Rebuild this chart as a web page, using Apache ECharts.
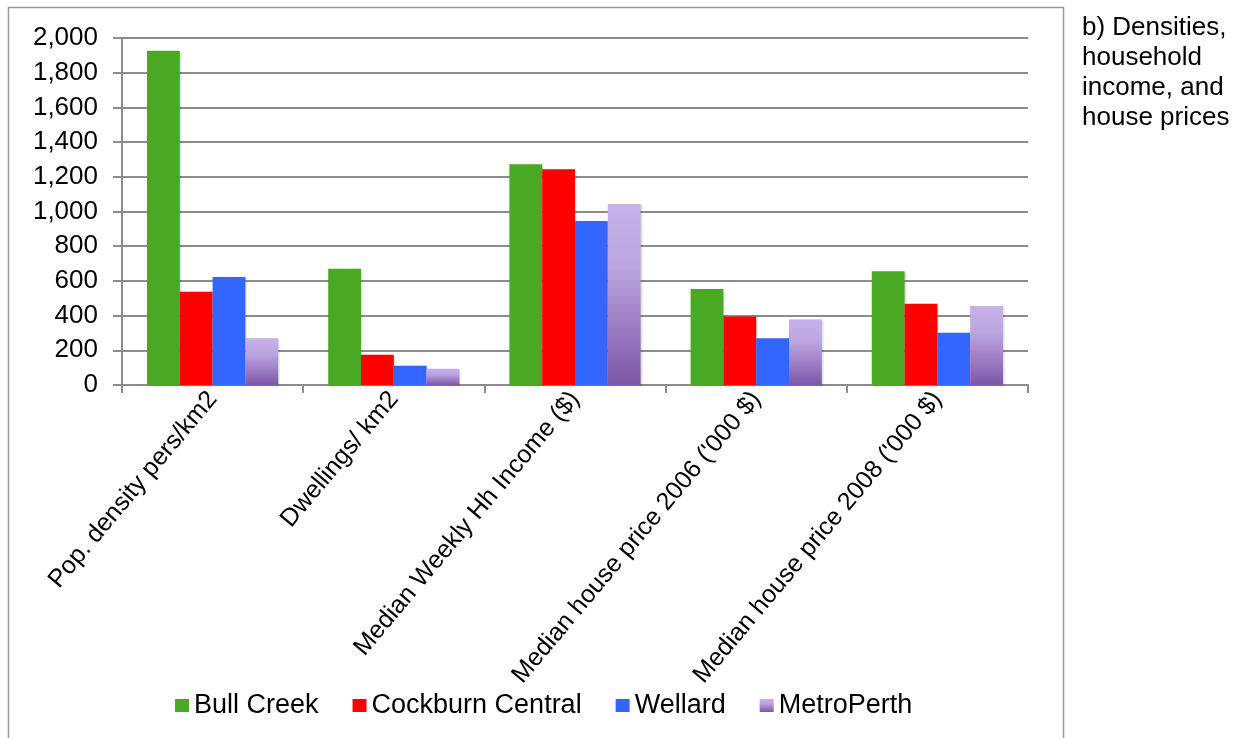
<!DOCTYPE html>
<html>
<head>
<meta charset="utf-8">
<script src="https://cdn.jsdelivr.net/npm/echarts@6/dist/echarts.min.js"></script>
<style>
  html, body { margin: 0; padding: 0; background: #fff; }
  #chart { width: 1241px; height: 738px; }
</style>
</head>
<body>
<div id="chart"></div>
<script>
// ============================================
// DATA
// ============================================

const categories = [
  'Pop. density pers/km2',
  'Dwellings/ km2',
  'Median Weekly Hh Income ($)',
  "Median house price 2006 ('000 $)",
  "Median house price 2008 ('000 $)"
];

const bullCreek = [1927, 670, 1273, 554, 656];
const cockburnCentral = [538, 174, 1244, 395, 468];
const wellard = [622, 111, 945, 270, 301];
const metroPerth = [270, 94, 1043, 378, 456];

const yTicks = [0, 200, 400, 600, 800, 1000, 1200, 1400, 1600, 1800, 2000];

// ============================================
// CHART
// ============================================

const FONT = "'Liberation Sans', Arial, Helvetica, sans-serif";
const GRID_GREY = '#8c8c8c';

const barShadow = {
  shadowColor: 'rgba(0, 0, 0, 0.18)',
  shadowBlur: 2,
  shadowOffsetX: 1,
  shadowOffsetY: 1
};

const metroGradient = {
  type: 'linear',
  x: 0, y: 0, x2: 0, y2: 1,
  colorStops: [
    { offset: 0, color: '#c6b2ea' },
    { offset: 0.35, color: '#bba4e0' },
    { offset: 1, color: '#7d56a7' }
  ]
};

function barSeries(name, data, color) {
  return {
    name: name,
    type: 'bar',
    data: data,
    barGap: '0%',
    barCategoryGap: '27.6%',
    itemStyle: Object.assign({ color: color }, barShadow)
  };
}

const chart = echarts.init(document.getElementById('chart'));

const option = {
  backgroundColor: '#ffffff',
  animation: false,
  textStyle: { fontFamily: FONT, color: '#000' },
  grid: {
    left: 122,
    right: 213,
    top: 38,
    bottom: 353,
    containLabel: false
  },
  legend: {
    left: 170,
    top: 687,
    itemWidth: 14,
    itemHeight: 13,
    itemGap: 34,
    icon: 'rect',
    textStyle: { fontFamily: FONT, fontSize: 27, color: '#000' },
    data: ['Bull Creek', 'Cockburn Central', 'Wellard', 'MetroPerth']
  },
  xAxis: {
    type: 'category',
    data: categories,
    axisLine: { lineStyle: { color: GRID_GREY, width: 2 } },
    axisTick: { show: true, length: 8, lineStyle: { color: GRID_GREY, width: 2 } },
    axisLabel: {
      interval: 0,
      rotate: 50,
      margin: 10,
      fontFamily: FONT,
      fontSize: 25,
      color: '#000'
    }
  },
  yAxis: {
    type: 'value',
    min: yTicks[0],
    max: yTicks[yTicks.length - 1],
    interval: 200,
    axisLine: { show: true, lineStyle: { color: GRID_GREY, width: 2 } },
    axisTick: { show: true, length: 9, lineStyle: { color: GRID_GREY, width: 2 } },
    splitLine: { show: true, lineStyle: { color: GRID_GREY, width: 2 } },
    axisLabel: {
      margin: 24,
      fontFamily: FONT,
      fontSize: 26,
      color: '#000',
      formatter: (v) => v.toLocaleString('en-US')
    }
  },
  graphic: [
    {
      type: 'rect',
      shape: { x: 8.5, y: 7.5, width: 1055, height: 800 },
      style: { fill: 'none', stroke: '#9a9a9a', lineWidth: 1.5 },
      silent: true
    },
    {
      type: 'text',
      left: 1082,
      top: 13,
      style: {
        text: 'b) Densities,\nhousehold\nincome, and\nhouse prices',
        font: "26px 'Liberation Sans', Arial, sans-serif",
        lineHeight: 30,
        fill: '#000'
      }
    }
  ],
  series: [
    barSeries('Bull Creek', bullCreek, '#4aa923'),
    barSeries('Cockburn Central', cockburnCentral, '#ff0000'),
    barSeries('Wellard', wellard, '#3366ff'),
    barSeries('MetroPerth', metroPerth, metroGradient)
  ]
};

chart.setOption(option);
</script>
</body>
</html>
